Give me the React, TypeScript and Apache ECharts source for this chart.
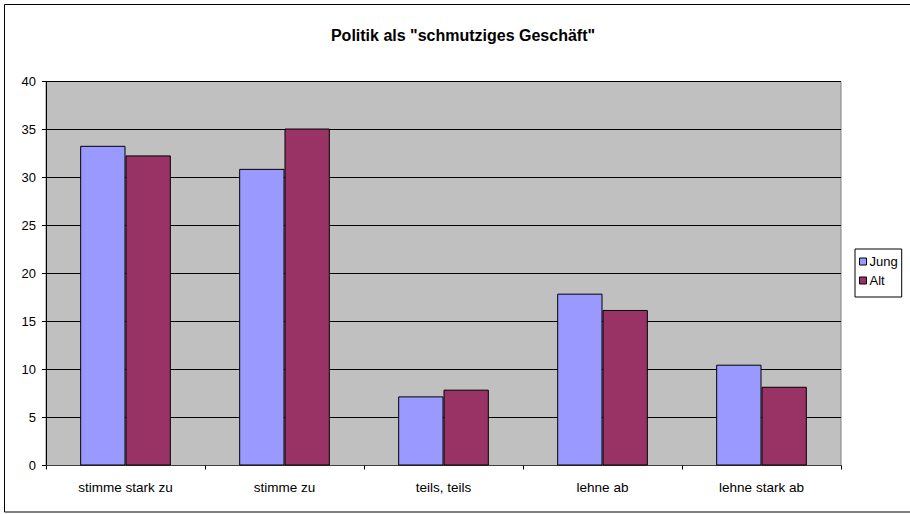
import React, { useEffect, useRef } from "react";
import * as echarts from "echarts";

const categories = ["stimme stark zu", "stimme zu", "teils, teils", "lehne ab", "lehne stark ab"];
const jung = [33.3, 30.9, 7.2, 17.9, 10.5];
const alt = [32.3, 35.1, 7.9, 16.2, 8.2];
const titleText = 'Politik als "schmutziges Geschäft"';

export default function App() {
  const ref = useRef<HTMLDivElement>(null);
  useEffect(() => {
    document.body.style.margin = "0";
    const chart = echarts.init(ref.current!, null, { renderer: "svg" });
    const font = "Arial, 'Liberation Sans', sans-serif";
    chart.setOption({
      animation: false,
      backgroundColor: "#ffffff",
      textStyle: { fontFamily: font },
      title: {
        text: titleText,
        left: 458,
        top: 22,
        textAlign: "center",
        textStyle: { fontFamily: font, fontSize: 16, fontWeight: "bold", color: "#000" },
      },
      graphic: [
        {
          type: "rect",
          shape: { x: 4.5, y: 4.5, width: 920, height: 507.5 },
          style: { fill: "none", stroke: "#000", lineWidth: 1 },
          silent: true,
          z: 100,
        },
      ],
      legend: {
        orient: "vertical",
        left: 855,
        top: 249,
        padding: [6, 4, 10, 4],
        itemGap: 6,
        itemWidth: 7,
        itemHeight: 7,
        borderColor: "#000",
        borderWidth: 1,
        backgroundColor: "#fff",
        icon: "rect",
        itemStyle: { borderColor: "#000", borderWidth: 1 },
        textStyle: { fontFamily: font, fontSize: 13, color: "#000", padding: [0, 0, 0, -2] },
        data: ["Jung", "Alt"],
      },
      grid: {
        left: 46,
        top: 81.5,
        right: 69,
        bottom: 48.5,
        show: true,
        backgroundColor: "#C0C0C0",
        borderColor: "#808080",
        borderWidth: 1,
      },
      xAxis: {
        type: "category",
        data: categories,
        axisLine: { lineStyle: { color: "#404040", width: 1 } },
        axisTick: { show: true, length: 4, lineStyle: { color: "#000" } },
        axisLabel: { fontFamily: font, fontSize: 13.5, color: "#000", margin: 15 },
      },
      yAxis: {
        type: "value",
        min: 0,
        max: 40,
        interval: 5,
        axisLine: { show: true, lineStyle: { color: "#000", width: 1 } },
        axisTick: { show: true, length: 4, lineStyle: { color: "#000" } },
        axisLabel: { fontFamily: font, fontSize: 13, color: "#000", margin: 10 },
        splitLine: { show: true, lineStyle: { color: "#000", width: 1 } },
      },
      series: [
        {
          name: "Jung",
          type: "bar",
          data: jung,
          barGap: "0%",
          barCategoryGap: "43%",
          itemStyle: { color: "#9999FF", borderColor: "#000", borderWidth: 1 },
        },
        {
          name: "Alt",
          type: "bar",
          data: alt,
          itemStyle: { color: "#993366", borderColor: "#000", borderWidth: 1 },
        },
      ],
    });
    return () => chart.dispose();
  }, []);
  return <div ref={ref} style={{ position: "absolute", left: 0, top: 0, width: 910, height: 514 }} />;
}
